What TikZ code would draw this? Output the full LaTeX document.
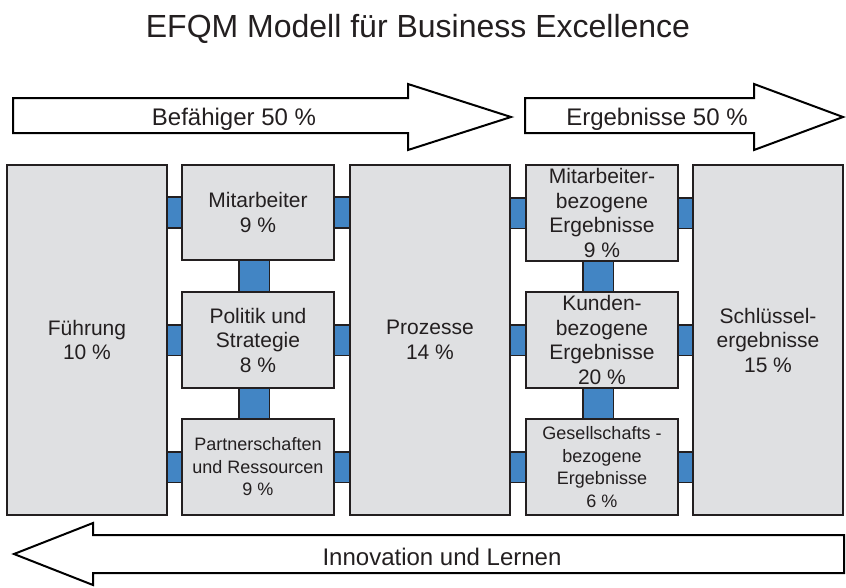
\documentclass[tikz,border=0pt]{standalone}
\usepackage{fontspec}
\setmainfont{Liberation Sans}
\usetikzlibrary{calc}
\pgfdeclarelayer{background}
\pgfsetlayers{background,main}
\definecolor{boxGray}{RGB}{223,224,226}
\definecolor{connBlue}{RGB}{66,133,196}
\definecolor{lineGray}{RGB}{35,31,32}

\begin{document}
\begin{tikzpicture}[x = 1pt, y = -1pt]
	\tikzstyle{boxStyle} = [shape = rectangle, draw = lineGray, line width = 1.6pt, fill = boxGray, text = lineGray, align = center, inner sep = 2pt, font = \fontsize{21}{24.5}\selectfont]
	\tikzstyle{smallStyle} = [boxStyle, font = \fontsize{18}{22.5}\selectfont]
	\tikzstyle{linkStyle} = [draw = lineGray, line width = 1.6pt, double = connBlue, double distance = 29pt]
	\tikzstyle{arrowStyle} = [draw = black, line width = 2pt, fill = white, line join = miter]
	\tikzstyle{arrowText} = [text = lineGray, anchor = base, font = \fontsize{24}{28}\selectfont]
	\useasboundingbox (0,0) rectangle (846,587);
	\node[text = lineGray, anchor = base, font = \fontsize{32}{38}\selectfont] (title) at (418,37) {EFQM Modell für Business Excellence};
	\draw[arrowStyle] (13,98) -- (408,98) -- (408,84) -- (511,117) -- (408,150) -- (408,133) -- (13,133) -- cycle;
	\draw[arrowStyle] (525,98) -- (754,98) -- (754,84) -- (843,117) -- (754,150) -- (754,133) -- (525,133) -- cycle;
	\draw[arrowStyle] (844,535) -- (93,535) -- (93,523) -- (14,554) -- (93,585) -- (93,573) -- (844,573) -- cycle;
	\node[arrowText] (befaehiger) at (234,125) {Befähiger 50 \%};
	\node[arrowText] (ergebnisse) at (657,125) {Ergebnisse 50 \%};
	\node[arrowText] (innovation) at (442,565) {Innovation und Lernen};
	\node[boxStyle, minimum width = 160pt, minimum height = 350pt] (fuehrung) at (87,340) {Führung\\10 \%};
	\node[boxStyle, minimum width = 152pt, minimum height = 95pt] (mitarbeiter) at (258,212.5) {Mitarbeiter\\9 \%};
	\node[boxStyle, minimum width = 152pt, minimum height = 96pt] (politik) at (258,340) {Politik und\\Strategie\\8 \%};
	\node[smallStyle, minimum width = 152pt, minimum height = 96pt] (ressourcen) at (258,467) {Partnerschaften\\und Ressourcen\\9 \%};
	\node[boxStyle, minimum width = 160pt, minimum height = 350pt] (prozesse) at (430,340) {Prozesse\\14 \%};
	\node[boxStyle, minimum width = 152pt, minimum height = 96pt] (maErgebnisse) at (602,213) {Mitarbeiter-\\bezogene\\Ergebnisse\\9 \%};
	\node[boxStyle, minimum width = 152pt, minimum height = 96pt] (kuErgebnisse) at (602,340) {Kunden-\\bezogene\\Ergebnisse\\20 \%};
	\node[smallStyle, minimum width = 152pt, minimum height = 96pt] (geErgebnisse) at (602,467) {Gesellschafts -\\bezogene\\Ergebnisse\\6 \%};
	\node[boxStyle, minimum width = 150pt, minimum height = 350pt] (schluessel) at (768,340) {Schlüssel-\\ergebnisse\\15 \%};
	\begin{pgfonlayer}{background}
	\draw[linkStyle] (fuehrung.east |- mitarbeiter) -- (mitarbeiter.west);
	\draw[linkStyle] (fuehrung.east |- politik) -- (politik.west);
	\draw[linkStyle] (fuehrung.east |- ressourcen) -- (ressourcen.west);
	\draw[linkStyle] (mitarbeiter.east) -- (prozesse.west |- mitarbeiter);
	\draw[linkStyle] (politik.east) -- (prozesse.west |- politik);
	\draw[linkStyle] (ressourcen.east) -- (prozesse.west |- ressourcen);
	\draw[linkStyle] (prozesse.east |- maErgebnisse) -- (maErgebnisse.west);
	\draw[linkStyle] (prozesse.east |- kuErgebnisse) -- (kuErgebnisse.west);
	\draw[linkStyle] (prozesse.east |- geErgebnisse) -- (geErgebnisse.west);
	\draw[linkStyle] (maErgebnisse.east) -- (schluessel.west |- maErgebnisse);
	\draw[linkStyle] (kuErgebnisse.east) -- (schluessel.west |- kuErgebnisse);
	\draw[linkStyle] (geErgebnisse.east) -- (schluessel.west |- geErgebnisse);
	\draw[linkStyle] ([xshift = -4pt]mitarbeiter.south) -- ([xshift = -4pt]politik.north);
	\draw[linkStyle] ([xshift = -4pt]politik.south) -- ([xshift = -4pt]ressourcen.north);
	\draw[linkStyle] ([xshift = -4pt]maErgebnisse.south) -- ([xshift = -4pt]kuErgebnisse.north);
	\draw[linkStyle] ([xshift = -4pt]kuErgebnisse.south) -- ([xshift = -4pt]geErgebnisse.north);
	\end{pgfonlayer}
\end{tikzpicture}
\end{document}
